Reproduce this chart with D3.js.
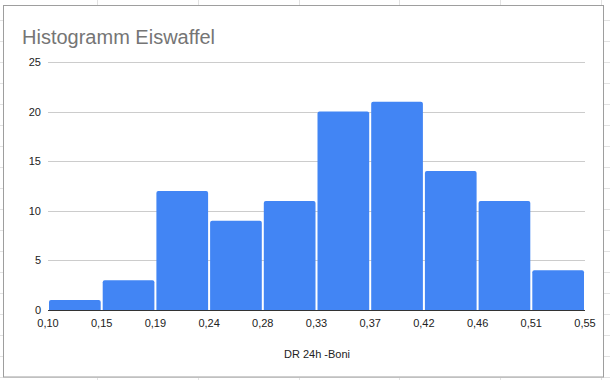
<!DOCTYPE html>
<html><head><meta charset="utf-8">
<script src="https://cdn.jsdelivr.net/npm/d3@7"></script>
<style>html,body{margin:0;padding:0;background:#fff;}svg{display:block;font-family:Arial,"Liberation Sans",sans-serif;}</style>
</head><body>
<svg id="c" width="610" height="380"></svg>
<script>
const title = "Histogramm Eiswaffel";
const xTitle = "DR 24h -Boni";
const binEdges = ["0,10","0,15","0,19","0,24","0,28","0,33","0,37","0,42","0,46","0,51","0,55"];
const counts = [1,3,12,9,11,20,21,14,11,4];
const yTicks = [0,5,10,15,20,25];

const svg = d3.select("#c");
// spreadsheet background grid
const bg = svg.append("g");
const colLines = [-4,97,198,299,399,500,601];
colLines.forEach(x=>bg.append("line").attr("x1",x+0.5).attr("x2",x+0.5).attr("y1",0).attr("y2",380).attr("stroke","#e2e2e2"));
for(let y=20;y<380;y+=21){bg.append("line").attr("x1",0).attr("x2",610).attr("y1",y+0.5).attr("y2",y+0.5).attr("stroke","#e2e2e2");}
// chart frame
svg.append("rect").attr("x",3.5).attr("y",5.5).attr("width",600).attr("height",371.5)
  .attr("fill","#fff").attr("stroke","#9e9e9e").attr("stroke-width",1);

const x = d3.scaleLinear().domain([0,counts.length]).range([48,585]);
const y = d3.scaleLinear().domain([0,25]).range([310,62]);

svg.append("text").attr("x",22).attr("y",44).attr("fill","#757575")
  .attr("font-size",20).text(title);

const grid = svg.append("g");
yTicks.forEach(t=>{
  if(t>0) grid.append("line").attr("x1",48).attr("x2",585)
    .attr("y1",Math.round(y(t))+0.5).attr("y2",Math.round(y(t))+0.5).attr("stroke","#cccccc");
  svg.append("text").attr("x",41).attr("y",y(t)+4).attr("text-anchor","end")
    .attr("font-size",11).attr("fill","#222").text(t);
});

const r = 2;
svg.append("g").selectAll("path").data(counts).join("path")
  .attr("fill","#4285f4")
  .attr("d",(d,i)=>{
    const x0=x(i)+1, x1=x(i+1)-1, y0=y(0), y1=y(d);
    return `M${x0},${y0}V${y1+r}Q${x0},${y1} ${x0+r},${y1}H${x1-r}Q${x1},${y1} ${x1},${y1+r}V${y0}Z`;
  });

svg.append("line").attr("x1",48).attr("x2",585).attr("y1",310.5).attr("y2",310.5).attr("stroke","#333");

binEdges.forEach((t,i)=>{
  svg.append("text").attr("x",x(i)).attr("y",327).attr("text-anchor","middle")
    .attr("font-size",11).attr("fill","#222").text(t);
});
svg.append("text").attr("x",317).attr("y",358).attr("text-anchor","middle")
  .attr("font-size",11).attr("fill","#222").text(xTitle);
</script>
</body></html>
